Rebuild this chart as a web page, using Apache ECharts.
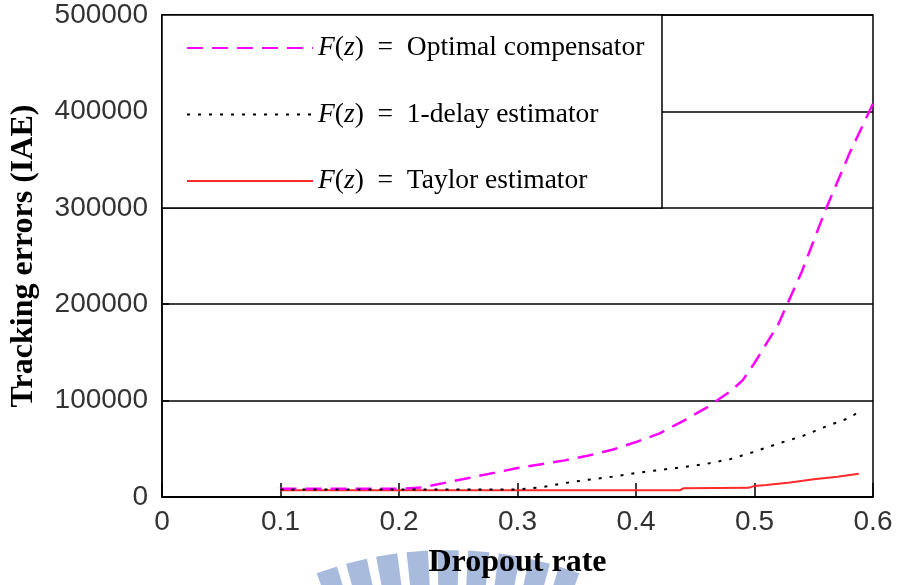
<!DOCTYPE html>
<html>
<head>
<meta charset="utf-8">
<script src="https://cdn.jsdelivr.net/npm/echarts@6/dist/echarts.min.js"></script>
<style>html,body{margin:0;padding:0;background:#fff}#c{width:898px;height:585px}</style>
</head>
<body>
<div id="c"></div>
<script>
var xTickLabels = ['0', '0.1', '0.2', '0.3', '0.4', '0.5', '0.6'];
var yTickLabels = ['0', '100000', '200000', '300000', '400000', '500000'];

var xOptimal = [0.10, 0.12, 0.14, 0.16, 0.18, 0.20, 0.22, 0.24, 0.26, 0.28, 0.30, 0.32, 0.34, 0.36, 0.38, 0.40, 0.42, 0.44, 0.46, 0.48, 0.49, 0.50, 0.52, 0.54, 0.56, 0.58, 0.60];
var yOptimal = [8500, 8500, 8500, 8500, 8500, 8500, 10000, 15000, 20000, 25000, 30000, 34000, 38000, 43000, 49000, 57000, 66000, 79000, 93000, 110000, 121000, 139000, 179000, 234000, 298000, 356000, 408000];

var xDelay = [0.10, 0.14, 0.18, 0.22, 0.26, 0.30, 0.32, 0.34, 0.36, 0.38, 0.40, 0.42, 0.44, 0.46, 0.48, 0.50, 0.52, 0.54, 0.56, 0.58, 0.59];
var yDelay = [7800, 7800, 7800, 7800, 7800, 7800, 10000, 14500, 18000, 21000, 25000, 28000, 31000, 34500, 39500, 47000, 55500, 63000, 73000, 82000, 90000];

var xTaylor = [0.10, 0.20, 0.30, 0.40, 0.437, 0.44, 0.495, 0.50, 0.51, 0.53, 0.55, 0.57, 0.588];
var yTaylor = [7000, 7000, 7000, 7000, 7000, 9000, 9500, 11500, 12500, 15000, 18500, 21000, 24000];

var names = ['Optimal compensator', '1-delay estimator', 'Taylor estimator'];

function pairs(xs, ys) { return xs.map(function (x, i) { return [x, ys[i]]; }); }

var serif = 'Liberation Serif';
var sans = 'Liberation Sans';

// watermark stripes (decorative)
var stripes = [];
for (var k = -4; k <= 4; k++) {
  var a0 = (k * 4.6 - 1.6) * Math.PI / 180, a1 = (k * 4.6 + 1.6) * Math.PI / 180;
  var cx = 448, cy = 934, r1 = 384, r0 = 300;
  stripes.push({
    type: 'polygon', z: -10, silent: true,
    shape: { points: [
      [cx + r0 * Math.sin(a0), cy - r0 * Math.cos(a0)],
      [cx + r1 * Math.sin(a0), cy - r1 * Math.cos(a0)],
      [cx + r1 * Math.sin(a1), cy - r1 * Math.cos(a1)],
      [cx + r0 * Math.sin(a1), cy - r0 * Math.cos(a1)]
    ] },
    style: { fill: '#a9bbdd' }
  });
}

var legendFont = 27.5;
var chart = echarts.init(document.getElementById('c'), null, { renderer: 'canvas' });
chart.setOption({
  animation: false,
  backgroundColor: '#fff',
  grid: { left: 162, right: 25, top: 15, bottom: 88, show: true, borderColor: '#000', borderWidth: 1.5, backgroundColor: 'transparent' },
  graphic: stripes.concat([
    { type: 'rect', z: 1, silent: true, shape: { x: 162, y: 15, width: 500, height: 193 }, style: { fill: '#fff', stroke: '#000', lineWidth: 1.5 } }
  ]),
  legend: {
    orient: 'vertical', left: 186, top: 33, padding: 0, itemGap: 36.5,
    itemWidth: 126, itemHeight: 14, z: 5,
    itemStyle: { opacity: 0 },
    data: names,
    formatter: function (n) { return '{i|F}{n|(}{i|z}{n|)  =  ' + n + '}'; },
    textStyle: {
      fontFamily: serif, fontSize: legendFont, color: '#000', lineHeight: 30,
      rich: {
        i: { fontFamily: serif, fontStyle: 'italic', fontSize: legendFont, color: '#000', lineHeight: 30 },
        n: { fontFamily: serif, fontSize: legendFont, color: '#000', lineHeight: 30 }
      }
    }
  },
  xAxis: {
    type: 'value', min: 0, max: 0.6, interval: 0.1,
    name: 'Dropout rate', nameLocation: 'middle', nameGap: 50,
    nameTextStyle: { fontFamily: serif, fontWeight: 'bold', fontSize: 32, color: '#000' },
    axisLine: { show: true, lineStyle: { color: '#000', width: 1.5 } },
    axisTick: { show: true, inside: true, length: 14, lineStyle: { color: '#000', width: 1.5 } },
    splitLine: { show: false },
    axisLabel: { margin: 11, fontFamily: sans, fontSize: 28, color: '#333',
      formatter: function (v) { return xTickLabels[Math.round(v * 10)]; } }
  },
  yAxis: {
    type: 'value', min: 0, max: 500000, interval: 100000,
    name: 'Tracking errors (IAE)', nameLocation: 'middle', nameGap: 122, nameRotate: 90,
    nameTextStyle: { fontFamily: serif, fontWeight: 'bold', fontSize: 32, color: '#000' },
    axisLine: { show: true, lineStyle: { color: '#000', width: 1.5 } },
    axisTick: { show: true, inside: true, length: 7, lineStyle: { color: '#000', width: 1.5 } },
    splitLine: { show: true, lineStyle: { color: '#000', width: 1.5 } },
    axisLabel: { margin: 14, fontFamily: sans, fontSize: 28, color: '#333',
      formatter: function (v) { return yTickLabels[Math.round(v / 100000)]; } }
  },
  series: [
    { name: names[0], type: 'line', data: pairs(xOptimal, yOptimal), symbol: 'none', showSymbol: false, z: 3,
      lineStyle: { color: '#ff00ff', width: 2.5, type: [16, 9] }, itemStyle: { color: '#ff00ff' } },
    { name: names[1], type: 'line', data: pairs(xDelay, yDelay), symbol: 'none', showSymbol: false, z: 3,
      lineStyle: { color: '#000', width: 2, type: [3, 8] }, itemStyle: { color: '#000' } },
    { name: names[2], type: 'line', data: pairs(xTaylor, yTaylor), symbol: 'none', showSymbol: false, z: 2,
      lineStyle: { color: '#ff2a2a', width: 2 }, itemStyle: { color: '#ff2a2a' } }
  ]
});
</script>
</body>
</html>
